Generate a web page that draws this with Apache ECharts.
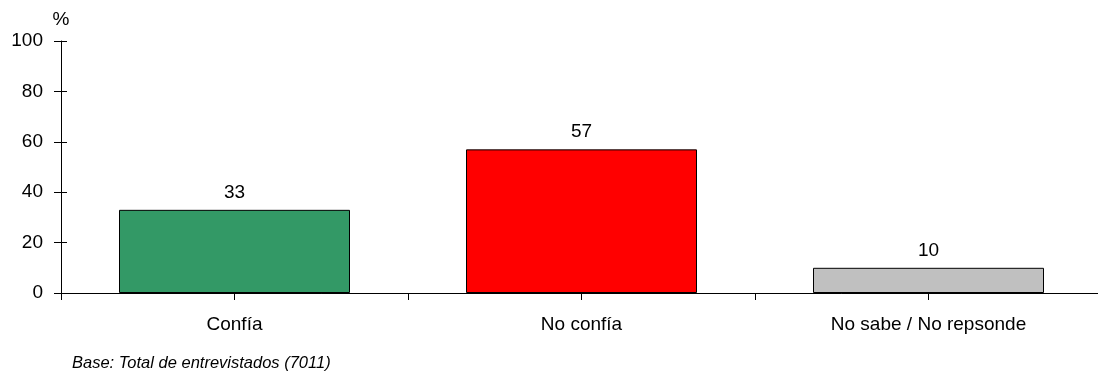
<!DOCTYPE html>
<html>
<head>
<meta charset="utf-8">
<script src="https://cdn.jsdelivr.net/npm/echarts@6/dist/echarts.min.js"></script>
<style>
  html, body { margin: 0; padding: 0; background: #fff; overflow: hidden; }
  #chart { width: 1106px; height: 383px; }
</style>
</head>
<body>
<div id="chart"></div>
<script>
const categories = ['Confía', 'No confía', 'No sabe / No repsonde'];
const values = [33, 57, 10];
const barColors = ['#339966', '#FF0000', '#C0C0C0'];
const yTicks = [0, 20, 40, 60, 80, 100];

const font = 'Arial, "Liberation Sans", sans-serif';
const chart = echarts.init(document.getElementById('chart'));

const baseX = {
  type: 'category',
  data: categories,
  position: 'bottom',
  axisLine: { show: false },
  axisLabel: { show: false },
  splitLine: { show: false },
};

chart.setOption({
  animation: false,
  grid: { left: 61, top: 41, width: 1041, height: 252, outerBoundsMode: 'none' },
  xAxis: [
    {
      type: 'category',
      data: categories,
      axisLine: { show: true, lineStyle: { color: '#000', width: 1 } },
      axisTick: { show: true, length: 7, lineStyle: { color: '#000' } },
      axisLabel: { color: '#000', fontFamily: font, fontSize: 19, margin: 22 },
    },
    { ...baseX, axisTick: { show: true, alignWithLabel: true, length: 7, lineStyle: { color: '#000' } } },
    { ...baseX, axisTick: { show: true, alignWithLabel: true, inside: true, length: 5, lineStyle: { color: '#000' } } },
  ],
  yAxis: [
    {
      type: 'value',
      min: 0,
      max: 100,
      interval: 20,
      name: '%',
      nameLocation: 'end',
      nameGap: 12,
      nameTextStyle: { color: '#000', fontFamily: font, fontSize: 19, align: 'center' },
      axisLine: { show: true, lineStyle: { color: '#000' } },
      axisTick: { show: true, length: 7, lineStyle: { color: '#000' } },
      axisLabel: { color: '#000', fontFamily: font, fontSize: 19, margin: 18,
        formatter: v => (yTicks.includes(v) ? String(v) : '') },
      splitLine: { show: false },
    },
    {
      type: 'value',
      min: 0,
      max: 100,
      interval: 20,
      position: 'left',
      axisLine: { show: false },
      axisTick: { show: true, inside: true, length: 6, lineStyle: { color: '#000' } },
      axisLabel: { show: false },
      splitLine: { show: false },
    },
  ],
  series: [{
    type: 'bar',
    barWidth: 231,
    data: values.map((v, i) => ({
      value: v,
      itemStyle: { color: barColors[i], borderColor: '#000', borderWidth: 1 },
    })),
    label: {
      show: true,
      position: 'top',
      distance: 8,
      color: '#000',
      fontFamily: font,
      fontSize: 19,
    },
  }],
  graphic: [{
    type: 'text',
    left: 72,
    top: 355,
    style: {
      text: 'Base: Total de entrevistados (7011)',
      fill: '#000',
      font: 'italic 16.5px ' + font,
    },
  }],
});
</script>
</body>
</html>
